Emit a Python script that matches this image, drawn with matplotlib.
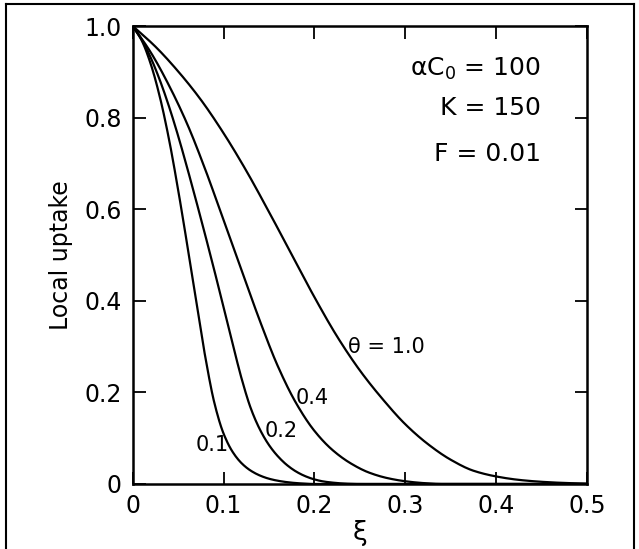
import numpy as np
import matplotlib
matplotlib.use("Agg")
import matplotlib.pyplot as plt
from matplotlib.lines import Line2D

# ---- data (local uptake vs xi, per theta) ----
xi_01 = [0.0, 0.01, 0.02, 0.03, 0.04, 0.05, 0.06, 0.07, 0.08, 0.09, 0.10, 0.11, 0.12, 0.13, 0.14, 0.15, 0.16, 0.17, 0.18, 0.19, 0.20, 0.5]
up_01 = [1.0, 0.968, 0.916, 0.844, 0.752, 0.642, 0.522, 0.398, 0.276, 0.176, 0.110, 0.070, 0.045, 0.029, 0.0185, 0.0115, 0.007, 0.004, 0.002, 0.0008, 0.0, 0.0]

xi_02 = [0.0, 0.01, 0.02, 0.03, 0.04, 0.05, 0.06, 0.07, 0.08, 0.09, 0.10, 0.11, 0.12, 0.13, 0.14, 0.15, 0.16, 0.17, 0.18, 0.19, 0.20, 0.21, 0.22, 0.23, 0.24, 0.25, 0.5]
up_02 = [1.0, 0.970, 0.930, 0.881, 0.824, 0.760, 0.690, 0.617, 0.542, 0.465, 0.386, 0.306, 0.229, 0.165, 0.119, 0.085, 0.060, 0.041, 0.027, 0.017, 0.010, 0.0055, 0.003, 0.0013, 0.0004, 0.0, 0.0]

xi_04 = [0.0, 0.02, 0.04, 0.06, 0.08, 0.10, 0.12, 0.14, 0.16, 0.18, 0.20, 0.22, 0.24, 0.26, 0.28, 0.30, 0.32, 0.34, 0.5]
up_04 = [1.0, 0.942, 0.870, 0.786, 0.686, 0.576, 0.466, 0.356, 0.256, 0.176, 0.116, 0.074, 0.045, 0.025, 0.013, 0.006, 0.002, 0.0, 0.0]

xi_10 = [0.0, 0.025, 0.05, 0.075, 0.10, 0.125, 0.15, 0.175, 0.20, 0.225, 0.25, 0.275, 0.30, 0.325, 0.35, 0.375, 0.40, 0.425, 0.45, 0.475, 0.50]
up_10 = [1.0, 0.955, 0.901, 0.839, 0.766, 0.684, 0.594, 0.501, 0.408, 0.322, 0.248, 0.1855, 0.1305, 0.087, 0.053, 0.029, 0.0165, 0.009, 0.0048, 0.0023, 0.0008]

x_ticks = [0, 0.1, 0.2, 0.3, 0.4, 0.5]
x_ticklabels = ["0", "0.1", "0.2", "0.3", "0.4", "0.5"]
y_ticks = [0, 0.2, 0.4, 0.6, 0.8, 1.0]
y_ticklabels = ["0", "0.2", "0.4", "0.6", "0.8", "1.0"]

curve_labels = ["0.1", "0.2", "0.4", "\u03b8 = 1.0"]
params_text = ["\u03b1C$_0$ = 100", "K = 150", "F = 0.01"]


def smooth_line(x, y, n=500):
    """Monotone cubic (Fritsch-Carlson) stroke through the read points."""
    x = np.asarray(x, float)
    y = np.asarray(y, float)
    h = np.diff(x)
    d = np.diff(y) / h
    m = np.zeros_like(x)
    m[0], m[-1] = d[0], d[-1]
    for i in range(1, len(x) - 1):
        if d[i - 1] * d[i] <= 0:
            m[i] = 0.0
        else:
            w1 = 2 * h[i] + h[i - 1]
            w2 = h[i] + 2 * h[i - 1]
            m[i] = (w1 + w2) / (w1 / d[i - 1] + w2 / d[i])
    xs = np.linspace(x[0], x[-1], n)
    k = np.clip(np.searchsorted(x, xs) - 1, 0, len(x) - 2)
    t = (xs - x[k]) / h[k]
    h00 = 2 * t**3 - 3 * t**2 + 1
    h10 = t**3 - 2 * t**2 + t
    h01 = -2 * t**3 + 3 * t**2
    h11 = t**3 - t**2
    ys = h00 * y[k] + h10 * h[k] * m[k] + h01 * y[k + 1] + h11 * h[k] * m[k + 1]
    return xs, ys


plt.rcParams['font.family'] = ['DejaVu Sans']

fig = plt.figure(figsize=(6.39, 5.49), dpi=100)
ax = fig.add_axes([0.2077, 0.1184, 0.7109, 0.8342])

for xs, ys in [(xi_01, up_01), (xi_02, up_02), (xi_04, up_04), (xi_10, up_10)]:
    lx, ly = smooth_line(xs, ys)
    ax.plot(lx, ly, color='black', lw=1.6, solid_capstyle='round', solid_joinstyle='round')

ax.set_xlim(0, 0.5)
ax.set_ylim(0, 1.0)
ax.set_xticks(x_ticks)
ax.set_xticklabels(x_ticklabels)
ax.set_yticks(y_ticks)
ax.set_yticklabels(y_ticklabels)
ax.tick_params(direction='in', length=9, width=1.3, labelsize=17,
               top=True, right=True, pad=7)
ax.tick_params(axis='y', pad=8)
for s in ax.spines.values():
    s.set_linewidth(1.8)

ax.set_ylabel("Local uptake", fontsize=17, labelpad=8)
ax.set_xlabel("\u03be", fontsize=19, labelpad=2)

# curve labels
ax.text(0.069, 0.085, curve_labels[0], fontsize=15, ha='left', va='center')
ax.text(0.145, 0.115, curve_labels[1], fontsize=15, ha='left', va='center')
ax.text(0.179, 0.187, curve_labels[2], fontsize=15, ha='left', va='center')
ax.text(0.237, 0.30, curve_labels[3], fontsize=15, ha='left', va='center')

# parameter block
ax.text(0.449, 0.906, params_text[0], fontsize=18, ha='right', va='center')
ax.text(0.449, 0.820, params_text[1], fontsize=18, ha='right', va='center')
ax.text(0.449, 0.720, params_text[2], fontsize=18, ha='right', va='center')

# frame around figure (left, top, right)
W, H = 639, 549
fx0, fx1, fy1 = 6 / W, 634 / W, 1 - 4 / H
fig.add_artist(Line2D([fx0, fx0], [0, fy1], color='black', lw=1.5, transform=fig.transFigure))
fig.add_artist(Line2D([fx0, fx1], [fy1, fy1], color='black', lw=1.5, transform=fig.transFigure))
fig.add_artist(Line2D([fx1, fx1], [0, fy1], color='black', lw=1.5, transform=fig.transFigure))

fig.savefig("out.png", dpi=100)
